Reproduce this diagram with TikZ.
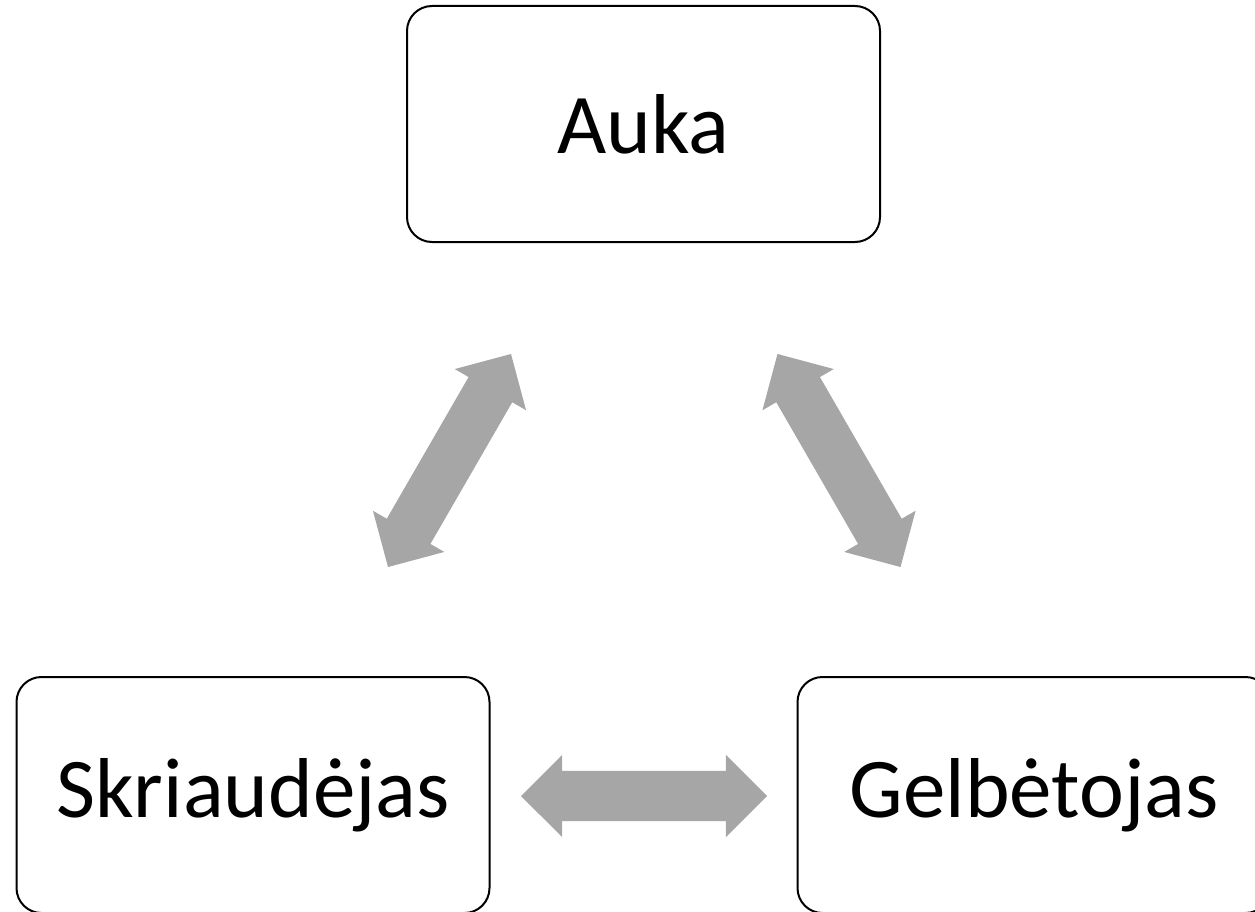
\documentclass[tikz,border=0pt]{standalone}
\usepackage{fontspec}
\setmainfont{Carlito}
\usetikzlibrary{shapes.arrows}
\definecolor{arrowgray}{HTML}{A6A6A6}
\tikzset{
  rolebox/.style={draw=black, line width=2pt, rounded corners=25pt, fill=white,
    minimum width=473pt, minimum height=236pt, inner sep=0pt,
    font=\fontsize{85}{92}\selectfont},
  blockarrow/.style={double arrow, fill=arrowgray, draw=none,
    inner xsep=0pt, inner ysep=25pt, minimum height=246pt,
    double arrow head extend=16pt, double arrow tip angle=90}
}
\begin{document}
\begin{tikzpicture}[x=1pt, y=-1pt]
\useasboundingbox (0,0) rectangle (1255,912);
\clip (0,0) rectangle (1255,912);
\node[rolebox] (auka) at (643.5,124) {Auka};
\node[rolebox] (skr) at (253,795) {Skriaudėjas};
\node[rolebox] (gel) at (1034,795) {Gelbėtojas};
\node[blockarrow, rotate=60] (a1) at (449.5,460.5) {};
\node[blockarrow, rotate=-60] (a2) at (839,460.5) {};
\node[blockarrow] (a3) at (644,796) {};
\end{tikzpicture}
\end{document}
